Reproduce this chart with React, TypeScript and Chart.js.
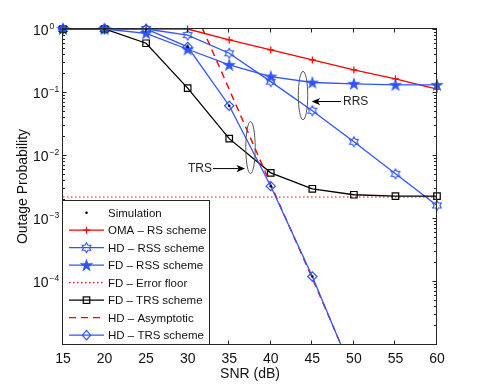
import React, { useEffect, useRef } from 'react';
import { Chart, registerables } from 'chart.js';

Chart.register(...registerables);

// ---------- data ----------
const snr = [15, 20, 25, 30, 35, 40, 45, 50, 55, 60];
const omaRS = [1, 1, 1, 1, 0.67, 0.466, 0.323, 0.224, 0.162, 0.111];
const hdRSS = [1, 1, 1, 0.8, 0.412, 0.146, 0.0504, 0.0162, 0.00502, 0.00158];
const fdRSS = [1, 1, 0.855, 0.477, 0.269, 0.176, 0.1415, 0.135, 0.13, 0.13];
const fdTRS = [1, 1, 0.594, 0.1153, 0.01817, 0.00521, 0.00291, 0.00234, 0.00222, 0.00222];
const floorSnr = [15, 60];
const floorVal = [0.00216, 0.00216];
const hdTRSSnr = [15, 20, 25, 30, 35, 40, 45, 50];
const hdTRS = [1, 1, 1, 0.52, 0.0605, 0.0032, 0.000118, 0.0000031];
const asymSnr = [30, 35, 40, 45, 50];
const asymVal = [3.5, 0.11, 0.0034, 0.00011, 0.0000033];
const simSnr = [20, 25, 30, 35, 40, 45];
const simVal = [1, 1, 0.52, 0.0605, 0.0032, 0.000118];

const xTicks = [15, 20, 25, 30, 35, 40, 45, 50, 55, 60];
const yTickExp = [0, -1, -2, -3, -4];

const legendLabels = [
  'Simulation',
  'OMA \u2013 RS scheme',
  'HD \u2013 RSS scheme',
  'FD \u2013 RSS scheme',
  'FD \u2013 Error floor',
  'FD \u2013 TRS scheme',
  'HD \u2013 Asymptotic',
  'HD \u2013 TRS scheme',
];

// annotations (data coordinates)
const rrsEllipse = { x: 43.88, y: 0.0877 };
const rrsArrow = { x0: 48.45, x1: 44.92, y: 0.0706, textX: 48.69, text: 'RRS' };
const trsEllipse = { x: 37.56, y: 0.0131 };
const trsArrow = { x0: 33.05, x1: 36.9, y: 0.00609, textX: 32.92, text: 'TRS' };

const RED = '#ff0000';
const BLUE = '#2e55ff';
const FONT = "'Liberation Sans', Arial, Helvetica, sans-serif";

const pts = (xs: number[], ys: number[]) => xs.map((x, i) => ({ x, y: ys[i] }));

function hexPath(ctx: CanvasRenderingContext2D, cx: number, cy: number, R: number) {
  const r = R / Math.sqrt(3);
  ctx.beginPath();
  for (let k = 0; k < 12; k++) {
    const a = (-90 + k * 30) * Math.PI / 180;
    const rr = k % 2 === 0 ? R : r;
    const px = cx + rr * Math.cos(a);
    const py = cy + rr * Math.sin(a);
    if (k === 0) ctx.moveTo(px, py); else ctx.lineTo(px, py);
  }
  ctx.closePath();
}

function starPath(ctx: CanvasRenderingContext2D, cx: number, cy: number, R: number) {
  const r = R * 0.382;
  ctx.beginPath();
  for (let k = 0; k < 10; k++) {
    const a = (-90 + k * 36) * Math.PI / 180;
    const rr = k % 2 === 0 ? R : r;
    const px = cx + rr * Math.cos(a);
    const py = cy + rr * Math.sin(a);
    if (k === 0) ctx.moveTo(px, py); else ctx.lineTo(px, py);
  }
  ctx.closePath();
}

function makeImg(kind: 'hex' | 'star') {
  const c = document.createElement('canvas');
  c.width = 14; c.height = 14;
  const g = c.getContext('2d')!;
  g.strokeStyle = BLUE; g.fillStyle = BLUE; g.lineWidth = 1.1;
  if (kind === 'hex') { hexPath(g, 7, 7, 5); g.stroke(); }
  else { starPath(g, 7, 7.4, 5.4); g.fill(); g.stroke(); }
  return c;
}

function drawMarker(ctx: CanvasRenderingContext2D, kind: string, x: number, y: number) {
  ctx.save();
  ctx.setLineDash([]);
  if (kind === 'dot') {
    ctx.fillStyle = '#000'; ctx.beginPath(); ctx.arc(x, y, 1.3, 0, Math.PI * 2); ctx.fill();
  } else if (kind === 'plus') {
    ctx.strokeStyle = RED; ctx.lineWidth = 1.2; ctx.beginPath();
    ctx.moveTo(x - 3.5, y); ctx.lineTo(x + 3.5, y); ctx.moveTo(x, y - 3.5); ctx.lineTo(x, y + 3.5); ctx.stroke();
  } else if (kind === 'hex') {
    ctx.strokeStyle = BLUE; ctx.lineWidth = 1.1; hexPath(ctx, x, y, 5); ctx.stroke();
  } else if (kind === 'star') {
    ctx.strokeStyle = BLUE; ctx.fillStyle = BLUE; ctx.lineWidth = 1.1; starPath(ctx, x, y + 0.4, 5.4); ctx.fill(); ctx.stroke();
  } else if (kind === 'square') {
    ctx.strokeStyle = '#000'; ctx.lineWidth = 1.2; ctx.strokeRect(x - 3.25, y - 3.25, 6.5, 6.5);
  } else if (kind === 'diamond') {
    ctx.strokeStyle = BLUE; ctx.lineWidth = 1.2; ctx.beginPath();
    ctx.moveTo(x, y - 4.8); ctx.lineTo(x + 4.2, y); ctx.lineTo(x, y + 4.8); ctx.lineTo(x - 4.2, y); ctx.closePath(); ctx.stroke();
  }
  ctx.restore();
}

const legendStyles = [
  { color: '#000', dash: [] as number[], width: 0, marker: 'dot' },
  { color: RED, dash: [], width: 1.3, marker: 'plus' },
  { color: BLUE, dash: [], width: 1.3, marker: 'hex' },
  { color: BLUE, dash: [], width: 1.3, marker: 'star' },
  { color: RED, dash: [1.5, 2.5], width: 1.1, marker: '' },
  { color: '#000', dash: [], width: 1.3, marker: 'square' },
  { color: RED, dash: [7, 5], width: 1.4, marker: '' },
  { color: BLUE, dash: [], width: 1.3, marker: 'diamond' },
];

function arrow(ctx: CanvasRenderingContext2D, x0: number, x1: number, y: number) {
  const dir = Math.sign(x1 - x0);
  const L = 8.5, W = 3.6, N = 2.2;
  ctx.beginPath();
  ctx.moveTo(x0, y); ctx.lineTo(x1 - dir * (L - N), y); ctx.stroke();
  ctx.beginPath();
  ctx.moveTo(x1, y);
  ctx.lineTo(x1 - dir * L, y - W);
  ctx.lineTo(x1 - dir * (L - N), y);
  ctx.lineTo(x1 - dir * L, y + W);
  ctx.closePath();
  ctx.fill();
}

const overlay = {
  id: 'overlay',
  afterDraw(chart: any) {
    const ctx: CanvasRenderingContext2D = chart.ctx;
    const xs = chart.scales.x;
    const ys = chart.scales.y;
    const a = chart.chartArea;
    const L = Math.round(a.left) - 0.5, R = Math.round(a.right) - 0.5;
    const T = Math.round(a.top) - 0.5, B = Math.round(a.bottom) + 0.5;
    ctx.save();

    // annotations
    ctx.strokeStyle = '#555'; ctx.lineWidth = 1;
    ctx.beginPath();
    ctx.ellipse(xs.getPixelForValue(rrsEllipse.x), ys.getPixelForValue(rrsEllipse.y), 4.7, 24.2, 0, 0, Math.PI * 2);
    ctx.stroke();
    ctx.beginPath();
    ctx.ellipse(xs.getPixelForValue(trsEllipse.x), ys.getPixelForValue(trsEllipse.y), 4.7, 26, 0, 0, Math.PI * 2);
    ctx.stroke();
    ctx.strokeStyle = '#000'; ctx.fillStyle = '#000'; ctx.lineWidth = 1;
    const ry = ys.getPixelForValue(rrsArrow.y);
    arrow(ctx, xs.getPixelForValue(rrsArrow.x0), xs.getPixelForValue(rrsArrow.x1), ry);
    const ty = ys.getPixelForValue(trsArrow.y);
    arrow(ctx, xs.getPixelForValue(trsArrow.x0), xs.getPixelForValue(trsArrow.x1), ty);
    ctx.font = `12px ${FONT}`;
    ctx.fillStyle = '#222';
    ctx.textBaseline = 'middle';
    ctx.textAlign = 'left';
    ctx.fillText(rrsArrow.text, xs.getPixelForValue(rrsArrow.textX), ry + 0.5);
    ctx.textAlign = 'right';
    ctx.fillText(trsArrow.text, xs.getPixelForValue(trsArrow.textX), ty + 0.5);

    // ticks
    ctx.strokeStyle = '#222'; ctx.lineWidth = 1;
    ctx.beginPath();
    for (const t of xTicks) {
      const px = Math.round(xs.getPixelForValue(t)) - 0.5;
      ctx.moveTo(px, B); ctx.lineTo(px, B - 4);
      ctx.moveTo(px, T); ctx.lineTo(px, T + 4);
    }
    for (let e = -5; e <= 0; e++) {
      const py = Math.round(ys.getPixelForValue(Math.pow(10, e))) + 0.5;
      ctx.moveTo(L, py); ctx.lineTo(L + 4, py);
      ctx.moveTo(R, py); ctx.lineTo(R - 4, py);
      if (e < 0) {
        for (let m = 2; m <= 9; m++) {
          const pm = Math.round(ys.getPixelForValue(m * Math.pow(10, e))) + 0.5;
          ctx.moveTo(L, pm); ctx.lineTo(L + 2.5, pm);
          ctx.moveTo(R, pm); ctx.lineTo(R - 2.5, pm);
        }
      }
    }
    ctx.stroke();

    // box
    ctx.strokeStyle = '#262626';
    ctx.strokeRect(L, T, R - L, B - T);

    // tick labels
    ctx.fillStyle = '#111';
    ctx.font = `14px ${FONT}`;
    ctx.textAlign = 'center';
    ctx.textBaseline = 'alphabetic';
    for (const t of xTicks) {
      ctx.fillText(String(t), xs.getPixelForValue(t), 363);
    }
    for (const e of yTickExp) {
      const py = ys.getPixelForValue(Math.pow(10, e));
      ctx.font = `14px ${FONT}`;
      ctx.textAlign = 'right';
      ctx.fillText('10', 48.5, py + 6.4);
      ctx.font = `8.5px ${FONT}`;
      ctx.textAlign = 'left';
      ctx.fillText(e === 0 ? '0' : '\u2212' + Math.abs(e), 49.5, py + 0.3);
    }

    // axis titles
    ctx.font = `14px ${FONT}`;
    ctx.textAlign = 'center';
    ctx.fillText('SNR (dB)', (a.left + a.right) / 2, 378);
    ctx.save();
    ctx.translate(27, (a.top + a.bottom) / 2);
    ctx.rotate(-Math.PI / 2);
    ctx.fillText('Outage Probability', 0, 0);
    ctx.restore();

    // legend
    const lx = L, ly = 200.5, lw = 209.5 - L, lh = B - 200.5;
    ctx.fillStyle = '#fff';
    ctx.fillRect(lx, ly, lw, lh);
    ctx.strokeStyle = '#262626'; ctx.lineWidth = 1;
    ctx.strokeRect(lx, ly, lw, lh);
    ctx.font = `11.5px ${FONT}`;
    ctx.textAlign = 'left';
    ctx.textBaseline = 'alphabetic';
    legendLabels.forEach((lab, i) => {
      const cy = 212.7 + i * 17.49;
      const s = legendStyles[i];
      if (s.width > 0) {
        ctx.save();
        ctx.strokeStyle = s.color; ctx.lineWidth = s.width; ctx.setLineDash(s.dash);
        ctx.beginPath(); ctx.moveTo(69, cy); ctx.lineTo(104, cy); ctx.stroke();
        ctx.restore();
      }
      if (s.marker) drawMarker(ctx, s.marker, 86.5, cy);
      ctx.fillStyle = '#111';
      ctx.fillText(lab, 108, cy + 4.3);
    });

    ctx.restore();
  },
};

export default function App() {
  const ref = useRef<HTMLCanvasElement>(null);
  useEffect(() => {
    document.body.style.margin = '0';
    const hexImg = makeImg('hex');
    const starImg = makeImg('star');
    const clipStd = { left: 10, right: 10, top: 10, bottom: 10 };
    const chart = new Chart(ref.current!, {
      type: 'line',
      data: {
        datasets: [
          {
            label: legendLabels[0], data: pts(simSnr, simVal), showLine: false,
            pointStyle: 'circle', pointRadius: 1.3, pointBackgroundColor: '#000', pointBorderWidth: 0,
            borderColor: '#000', order: 0, clip: clipStd,
          },
          {
            label: legendLabels[1], data: pts(snr, omaRS), borderColor: RED, borderWidth: 1.3,
            pointStyle: 'cross', pointRadius: 3.5, pointBorderColor: RED, pointBorderWidth: 1.2,
            pointBackgroundColor: 'transparent', order: 7, clip: clipStd,
          },
          {
            label: legendLabels[2], data: pts(snr, hdRSS), borderColor: BLUE, borderWidth: 1.3,
            pointStyle: hexImg, pointRadius: 5, order: 6, clip: clipStd,
          },
          {
            label: legendLabels[3], data: pts(snr, fdRSS), borderColor: BLUE, borderWidth: 1.3,
            pointStyle: starImg, pointRadius: 5, order: 5, clip: clipStd,
          },
          {
            label: legendLabels[4], data: pts(floorSnr, floorVal), borderColor: RED, borderWidth: 1.1,
            borderDash: [1.5, 2.5], pointRadius: 0, order: 4, clip: 0,
          },
          {
            label: legendLabels[5], data: pts(snr, fdTRS), borderColor: '#000', borderWidth: 1.3,
            pointStyle: 'rect', pointRadius: 4.6, pointBorderColor: '#000', pointBorderWidth: 1.2,
            pointBackgroundColor: 'transparent', order: 3, clip: clipStd,
          },
          {
            label: legendLabels[6], data: pts(asymSnr, asymVal), borderColor: RED, borderWidth: 1.4,
            borderDash: [7, 5], pointRadius: 0, order: 2, clip: 0,
          },
          {
            label: legendLabels[7], data: pts(hdTRSSnr, hdTRS), borderColor: BLUE, borderWidth: 1.3,
            pointStyle: 'rectRot', pointRadius: 4.6, pointBorderColor: BLUE, pointBorderWidth: 1.2,
            pointBackgroundColor: 'transparent', order: 1,
            clip: { left: 10, right: 10, top: 10, bottom: 0 },
          },
        ] as any,
      },
      options: {
        animation: false,
        responsive: false,
        devicePixelRatio: 1,
        events: [],
        layout: { padding: { left: 0, right: 45, top: 29, bottom: 0 } },
        plugins: { legend: { display: false }, tooltip: { enabled: false }, title: { display: false } },
        elements: { line: { tension: 0 } },
        scales: {
          x: {
            type: 'linear', min: 15, max: 60,
            grid: { display: false }, border: { display: false },
            ticks: { display: false },
            afterFit: (s: any) => { s.height = 44; },
          },
          y: {
            type: 'logarithmic', min: 1e-5, max: 1,
            grid: { display: false }, border: { display: false },
            ticks: { display: false },
            afterFit: (s: any) => { s.width = 63; },
          },
        },
      } as any,
      plugins: [overlay],
    });
    return () => { chart.destroy(); };
  }, []);
  return (
    <div style={{ position: 'absolute', left: 0, top: 0, width: 482, height: 388, background: '#fff' }}>
      <canvas ref={ref} width={482} height={388} style={{ display: 'block', width: 482, height: 388 }} />
    </div>
  );
}
